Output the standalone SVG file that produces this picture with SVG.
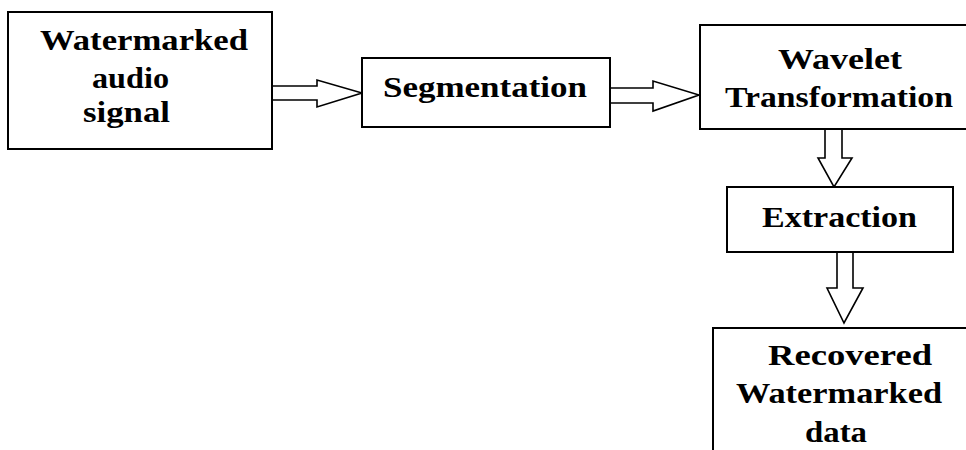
<svg xmlns="http://www.w3.org/2000/svg" width="966" height="450" viewBox="0 0 966 450">
  <style>
    .box { fill: #ffffff; stroke: #000000; stroke-width: 2; }
    .arrow { fill: #ffffff; stroke: #000000; stroke-width: 1.6; stroke-linejoin: miter; }
    .label { font-family: 'Liberation Serif', 'DejaVu Serif', serif; font-weight: 700; font-size: 30px; fill: #000000; }
  </style>
  <rect width="966" height="450" fill="#ffffff"/>

  <g id="connectors">
    <!-- block arrows: open tail against the source box -->
    <polygon class="arrow" points="272,86 317,86 317,80 362,93 317,107 317,100 272,100"/>
    <polygon class="arrow" points="610,88 653,88 653,81 699,95 653,111 653,103 610,103"/>
    <polygon class="arrow" points="825,128 825,158 818,158 834,187 852,158 842,158 842,128"/>
    <polygon class="arrow" points="837,252 837,288 827,288 844,323 863,288 853,288 853,252"/>
  </g>

  <g id="watermarked-audio-signal">
    <rect class="box" x="8" y="12" width="264" height="137"/>
    <text class="label" x="40" y="50" textLength="208" lengthAdjust="spacingAndGlyphs">Watermarked</text>
    <text class="label" x="92" y="88" textLength="77" lengthAdjust="spacingAndGlyphs">audio</text>
    <text class="label" x="83" y="122" textLength="87" lengthAdjust="spacingAndGlyphs">signal</text>
  </g>

  <g id="segmentation">
    <rect class="box" x="362" y="58" width="248" height="69"/>
    <text class="label" x="383" y="97" textLength="204" lengthAdjust="spacingAndGlyphs">Segmentation</text>
  </g>

  <g id="wavelet-transformation">
    <rect class="box" x="700" y="25" width="280" height="104"/>
    <text class="label" x="778" y="69" textLength="124" lengthAdjust="spacingAndGlyphs">Wavelet</text>
    <text class="label" x="725" y="107" textLength="228" lengthAdjust="spacingAndGlyphs">Transformation</text>
  </g>

  <g id="extraction">
    <rect class="box" x="727" y="187" width="226" height="65"/>
    <text class="label" x="762" y="227" textLength="155" lengthAdjust="spacingAndGlyphs">Extraction</text>
  </g>

  <g id="recovered-watermarked-data">
    <rect class="box" x="713" y="328" width="270" height="140"/>
    <text class="label" x="768" y="365" textLength="164" lengthAdjust="spacingAndGlyphs">Recovered</text>
    <text class="label" x="736" y="403" textLength="206" lengthAdjust="spacingAndGlyphs">Watermarked</text>
    <text class="label" x="805" y="442" textLength="62" lengthAdjust="spacingAndGlyphs">data</text>
  </g>
</svg>
